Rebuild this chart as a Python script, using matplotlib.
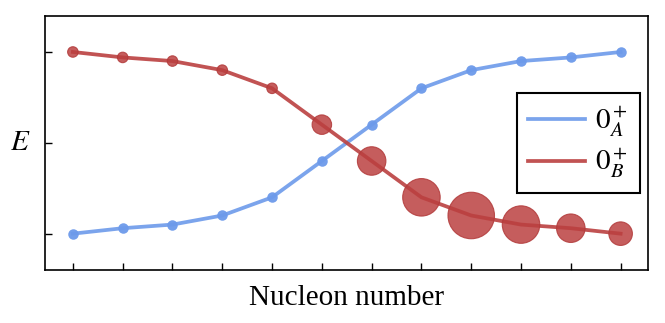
import matplotlib
matplotlib.use("Agg")
import matplotlib.pyplot as plt
import numpy as np

plt.rcParams['font.family'] = ['Liberation Serif', 'DejaVu Serif']
plt.rcParams['mathtext.fontset'] = 'stix'

nucleon = list(range(12))
energy_A = [0.0, 0.03, 0.05, 0.10, 0.20, 0.40, 0.60, 0.80, 0.90, 0.95, 0.97, 1.00]
energy_B = [1.00, 0.97, 0.95, 0.90, 0.80, 0.60, 0.40, 0.20, 0.10, 0.05, 0.03, 0.00]
mixing_B = [0.0, 0.0, 0.0, 0.0, 0.0, 0.2, 0.4, 0.6, 0.8, 0.6, 0.4, 0.29]
y_ticks = [0.0, 0.5, 1.0]

blue = '#6d9aea'
red = '#bb4040'

fig = plt.figure(figsize=(6.65, 3.23), dpi=100)
ax = fig.add_axes([45/665, 53/323, 603/665, 254/323])

ax.plot(nucleon, energy_A, color=blue, lw=2.7, alpha=0.9, label=r'$0_A^+$', zorder=2)
ax.scatter(nucleon, energy_A, s=(10.5*0.72)**2, color=blue, alpha=0.95, zorder=3, linewidths=0)

ax.plot(nucleon, energy_B, color=red, lw=2.7, alpha=0.9, label=r'$0_B^+$', zorder=2)
diam = (10.5 + 45*np.array(mixing_B)) * 0.72
ax.scatter(nucleon, energy_B, s=diam**2, color=red, alpha=0.85, zorder=3,
           edgecolors='#b23a3a', linewidths=0.8)

ax.set_xlim(-0.56, 11.55)
ax.set_ylim(-0.2, 1.198)
ax.set_xticks(nucleon)
ax.set_yticks(y_ticks)
ax.set_xticklabels([])
ax.set_yticklabels([])
ax.tick_params(direction='in', length=5, width=1.0, top=False, right=False)
for s in ax.spines.values():
    s.set_linewidth(1.2)

ax.set_xlabel('Nucleon number', fontsize=21, labelpad=7)
ax.set_ylabel(r'$E$', fontsize=21, rotation=0, labelpad=14, va='center')

leg = ax.legend(loc='center right', fontsize=21, frameon=True, fancybox=False,
                edgecolor='black', handlelength=1.95, borderaxespad=0.27,
                labelspacing=0.25, handletextpad=0.35, borderpad=0.4,
                bbox_to_anchor=(1.0, 0.5))
leg.get_frame().set_linewidth(1.5)
leg.get_frame().set_alpha(1)
for h in leg.get_lines():
    h.set_linewidth(2.7)

fig.savefig('out.png', dpi=100)
